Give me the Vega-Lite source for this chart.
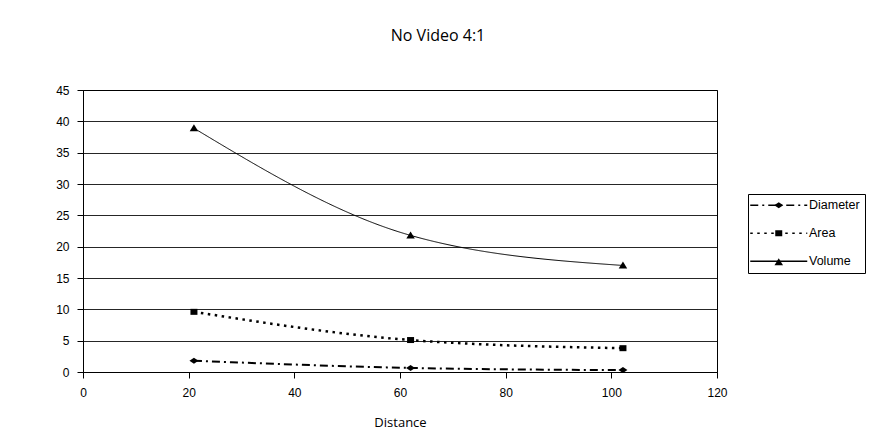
{
  "$schema": "https://vega.github.io/schema/vega-lite/v6.json",
  "width": 634,
  "height": 282,
  "autosize": {"type": "none"},
  "padding": {"left": 83, "top": 90, "right": 152, "bottom": 71},
  "background": "white",
  "title": {"text": "No Video 4:1", "font": "Open Sans", "fontSize": 16, "fontWeight": "normal", "color": "black", "dx": 38, "offset": 40},
  "config": {"view": {"stroke": "black", "strokeWidth": 1}, "font": "Liberation Sans"},
  "data": {"values": [
    {"series": "Diameter", "label": "Diameter", "distance": 21, "value": 1.8},
    {"series": "Diameter", "label": "Diameter", "distance": 62, "value": 0.65},
    {"series": "Diameter", "label": "Diameter", "distance": 102.2, "value": 0.3},
    {"series": "Area", "label": "Area", "distance": 21, "value": 9.6},
    {"series": "Area", "label": "Area", "distance": 62, "value": 5.1},
    {"series": "Area", "label": "Area", "distance": 102.2, "value": 3.8},
    {"series": "Volume", "label": "Volume", "distance": 21, "value": 38.9},
    {"series": "Volume", "label": "Volume", "distance": 62, "value": 21.8},
    {"series": "Volume", "label": "Volume", "distance": 102.2, "value": 17.0}
  ]},
  "encoding": {
    "x": {"field": "distance", "type": "quantitative", "scale": {"domain": [0, 120], "nice": false},
      "axis": {"values": [0, 20, 40, 60, 80, 100, 120], "grid": false, "labelFlush": false, "domainColor": "black", "tickColor": "black", "tickSize": 6, "labelPadding": 9, "labelFont": "Liberation Sans", "labelFontSize": 12, "labelColor": "black", "title": "Distance", "titleFont": "Open Sans", "titleFontSize": 13, "titleFontWeight": "normal", "titleColor": "black", "titlePadding": 18}},
    "y": {"field": "value", "type": "quantitative", "scale": {"domain": [0, 45], "nice": false},
      "axis": {"values": [0, 5, 10, 15, 20, 25, 30, 35, 40, 45], "grid": true, "labelFlush": false, "gridColor": "black", "gridOpacity": 0.85, "domainColor": "black", "tickColor": "black", "tickSize": 6, "labelPadding": 8, "labelFont": "Liberation Sans", "labelFontSize": 12, "labelColor": "black", "title": null}}
  },
  "layer": [
    {
      "mark": {"type": "line", "interpolate": "monotone", "color": "black"},
      "encoding": {
        "strokeDash": {"field": "series", "type": "nominal", "sort": {"field": "value", "op": "min", "order": "ascending"},
          "scale": {"range": [[8, 4, 2, 4], [2.5, 4.5], [1, 0]]},
          "legend": {"orient": "none", "legendX": 665, "legendY": 104, "title": null, "symbolType": "M-5.7,0H5.7", "symbolSize": 100, "symbolStrokeWidth": 1.5, "symbolStrokeColor": "black", "symbolOffset": 19.5, "labelOffset": 24, "labelFont": "Liberation Sans", "labelFontSize": 12.5, "labelColor": "black", "padding": 5, "rowPadding": 15, "strokeColor": "black"}},
        "strokeWidth": {"field": "series", "type": "nominal", "scale": {"type": "ordinal", "domain": ["Diameter", "Area", "Volume"], "range": [2, 2.5, 1]}, "legend": null}
      }
    },
    {
      "mark": {"type": "point", "filled": true, "size": 100, "color": "black", "opacity": 1, "strokeWidth": 1},
      "encoding": {
        "shape": {"field": "label", "type": "nominal", "sort": {"field": "value", "op": "min", "order": "ascending"},
          "scale": {"range": ["M-0.9,0L0,-0.6L0.9,0L0,0.6Z", "M-0.7,-0.6H0.7V0.6H-0.7Z", "M0,-0.8L0.85,0.6L-0.85,0.6Z"]},
          "legend": {"orient": "none", "legendX": 665, "legendY": 104, "title": null, "symbolSize": 100, "symbolStrokeWidth": 1.5, "symbolStrokeColor": "black", "symbolFillColor": "black", "symbolOffset": 19.5, "labelOffset": 24, "labelFont": "Liberation Sans", "labelFontSize": 12.5, "labelColor": "transparent", "padding": 5, "rowPadding": 15, "strokeColor": "transparent"}}
      }
    }
  ]
}
